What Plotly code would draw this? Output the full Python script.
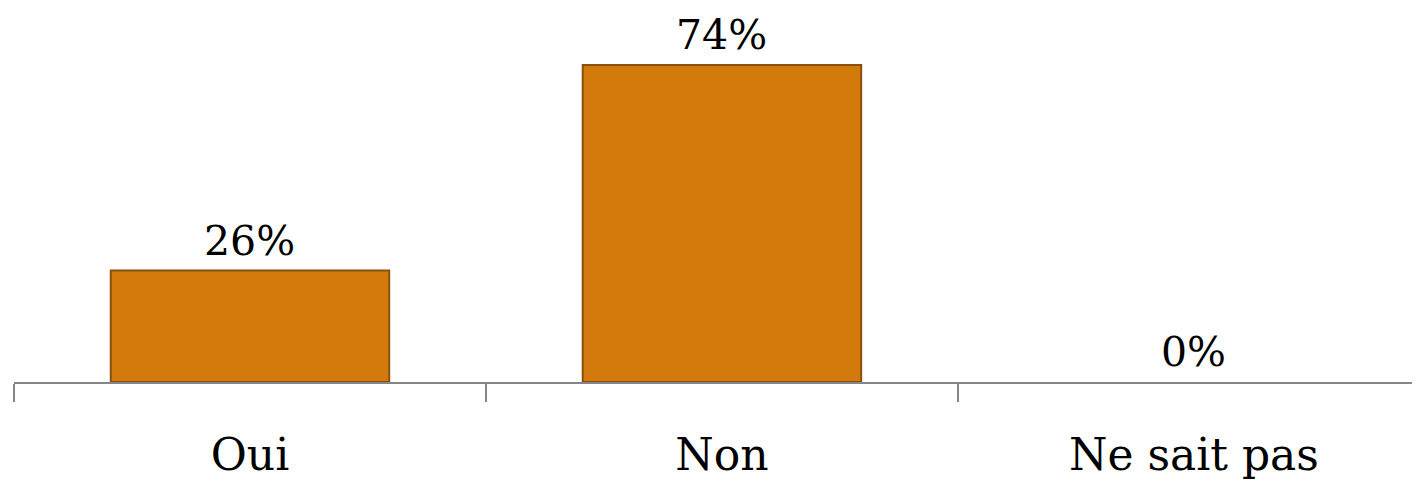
import plotly.graph_objects as go

categories = ["Oui", "Non", "Ne sait pas"]
values = [26, 74, 0]
labels = ["26%", "74%", "0%"]

SERIF = "DejaVu Serif"

fig = go.Figure()
fig.add_trace(go.Bar(
    x=categories, y=values,
    width=0.59,
    marker=dict(color="#D27A0C",
                line=dict(color="#8A500E", width=[2 if v > 0 else 0 for v in values])),
    hoverinfo="skip",
))
for c, v, t in zip(categories, values, labels):
    fig.add_annotation(x=c, y=v, text=t, showarrow=False, yanchor="bottom",
                       yshift=5, borderpad=0,
                       font=dict(family=SERIF, size=41, color="#000000"))

fig.update_layout(
    width=1420, height=482,
    margin=dict(l=6, r=0, t=0, b=108),
    paper_bgcolor="white", plot_bgcolor="white",
    showlegend=False,
    xaxis=dict(
        type="category", categoryarray=categories, range=[-0.5, 2.496],
        showline=True, linecolor="#868686", linewidth=2,
        ticks="outside", tickson="boundaries", ticklen=18, tickcolor="#868686", tickwidth=2,
        tickfont=dict(family=SERIF, size=44, color="#000000"),
        ticklabelstandoff=33, showgrid=False, zeroline=False,
    ),
    yaxis=dict(range=[0, 87.3], visible=False, showgrid=False, zeroline=False),
)
fig.write_html("out.html")
